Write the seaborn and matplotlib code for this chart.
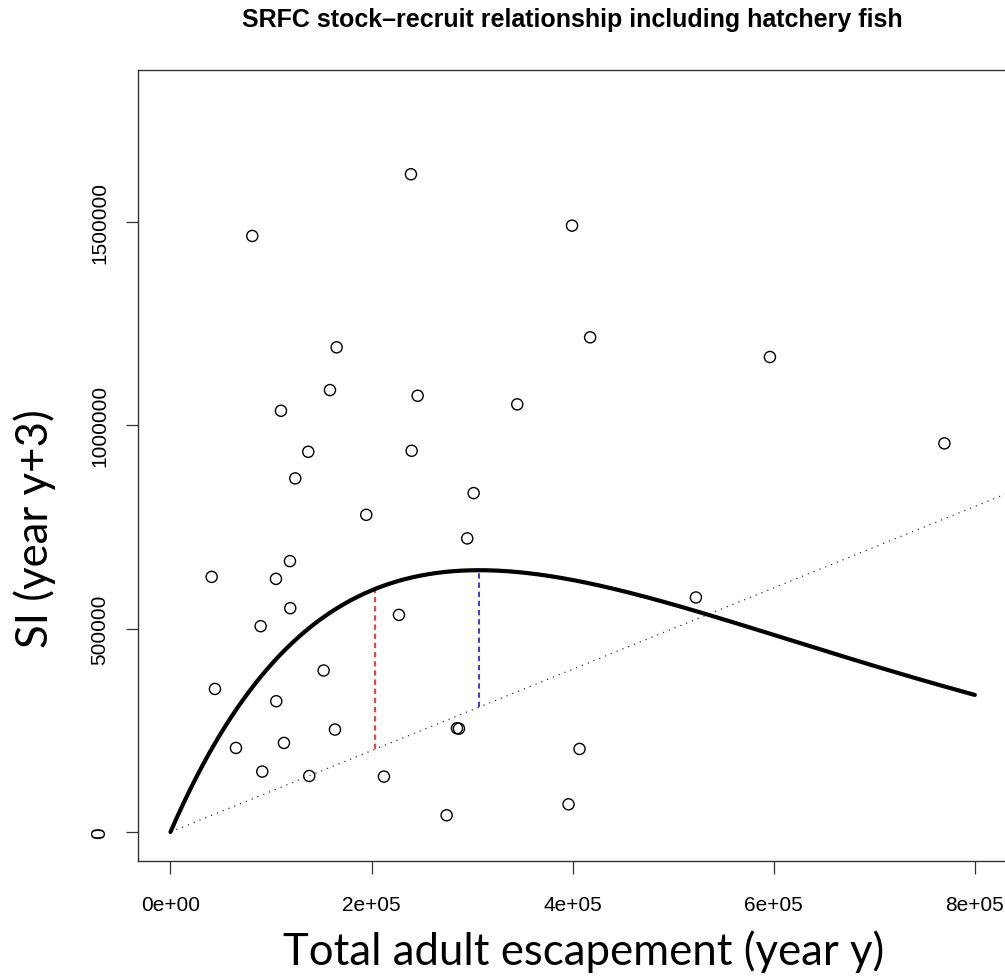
import numpy as np
import pandas as pd
import matplotlib
matplotlib.use("Agg")
import matplotlib.pyplot as plt
import seaborn as sns

# ---- data ----
escapement = [239177, 81350, 399391, 165286, 417392, 596203, 158623, 245840,
              109892, 344893, 137042, 239873, 769743, 124114, 301532, 194723,
              295168, 118843, 40973, 104920, 119141, 522610, 89704, 227243,
              152357, 44255, 105218, 163595, 284924, 286913, 406850, 65140,
              112876, 91295, 138037, 212326, 395910, 274681]
si_recruits = [1616500, 1464800, 1490200, 1191100, 1215700, 1167300, 1086100, 1072100,
               1035200, 1051000, 934400, 936900, 955100, 869000, 832900, 779500,
               721500, 665700, 627000, 622100, 550100, 576400, 505800, 533600,
               396900, 351600, 321400, 251800, 255000, 254000, 204100, 206600,
               218900, 148500, 137700, 136200, 68100, 41100]

ricker_alpha = 5.693          # productivity
ricker_smax = 307200          # escapement at max recruitment (1/beta)
smsy_value = 203400           # red reference line
curve_max_s = 800000

x_ticks = [0, 200000, 400000, 600000, 800000]
x_tick_labels = ["0e+00", "2e+05", "4e+05", "6e+05", "8e+05"]
y_ticks = [0, 500000, 1000000, 1500000]
y_tick_labels = ["0", "500000", "1000000", "1500000"]

title_text = "SRFC stock\u2013recruit relationship including hatchery fish"
x_label = "Total adult escapement (year y)"
y_label = "SI (year y+3)"


def ricker(s):
    s = np.asarray(s, dtype=float)
    return ricker_alpha * s * np.exp(-s / ricker_smax)


sns.set_theme(style="white")
plt.rcParams["font.family"] = ["Liberation Sans", "DejaVu Sans"]

fig = plt.figure(figsize=(10.05, 9.79), dpi=100)
ax = fig.add_axes([0.1376, 0.1192, 0.8644, 0.808])

df = pd.DataFrame({"S": escapement, "R": si_recruits})

# 1:1 replacement line
ax.plot([0, 1.0e6], [0, 1.0e6], color="#333333", lw=0.9,
        linestyle=(0, (1, 4)), zorder=1)

# Ricker curve
s_grid = np.linspace(0, curve_max_s, 400)
sns.lineplot(x=s_grid, y=ricker(s_grid), ax=ax, color="black", lw=3.0,
             zorder=3, sort=False)

# reference lines
ax.plot([smsy_value, smsy_value], [smsy_value, float(ricker(smsy_value))],
        color="red", lw=1.1, linestyle=(0, (3.5, 2.5)), zorder=2)
ax.plot([ricker_smax, ricker_smax], [ricker_smax, float(ricker(ricker_smax))],
        color="blue", lw=1.1, linestyle=(0, (3.5, 2.5)), zorder=2)

# points
sns.scatterplot(data=df, x="S", y="R", ax=ax, marker="o", s=64,
                color="black", zorder=4)
pc = ax.collections[-1]
pc.set_facecolor("none")
pc.set_edgecolor("black")
pc.set_linewidth(1.0)

ax.set_xlim(-32000, 832000)
ax.set_ylim(-72000, 1872000)
ax.set_xticks(x_ticks)
ax.set_xticklabels(x_tick_labels)
ax.set_yticks(y_ticks)
ax.set_yticklabels(y_tick_labels, rotation=90, va="center")
ax.tick_params(axis="both", direction="out", length=9, width=0.9,
               color="#333333", labelsize=15, labelcolor="black",
               bottom=True, left=True)
ax.tick_params(axis="x", pad=15)
ax.tick_params(axis="y", pad=12)
ax.set_xlabel("")
ax.set_ylabel("")
for sp in ax.spines.values():
    sp.set_visible(True)
    sp.set_color("#333333")
    sp.set_linewidth(1.0)
ax.grid(False)

fig.text(572.6 / 1005, 1 - 26.7 / 979, title_text, ha="center", va="baseline",
         fontsize=18, fontweight="bold", color="black",
         family=["Liberation Sans", "DejaVu Sans"])
fig.text(583.5 / 1005, 1 - 965 / 979, x_label, ha="center", va="baseline",
         fontsize=31.5, color="black", family=["Lato", "DejaVu Sans"])
fig.text(35 / 1005, 1 - 529 / 979, y_label, ha="center", va="center",
         rotation=90, fontsize=31.5, color="black", family=["Lato", "DejaVu Sans"])

fig.savefig("out.png", dpi=100)
